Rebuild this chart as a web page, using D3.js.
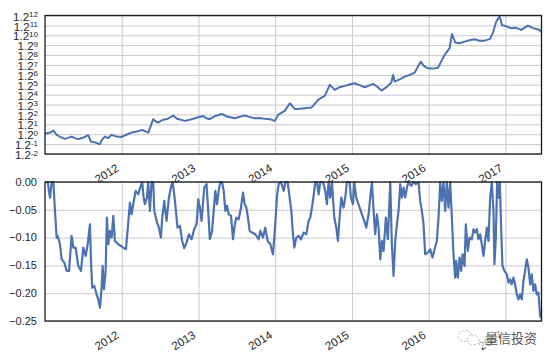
<!DOCTYPE html>
<html>
<head>
<meta charset="utf-8">
<script src="https://cdn.jsdelivr.net/npm/d3@7/dist/d3.min.js"></script>
<style>
  body { margin: 0; background: #fff; }
  text { font-family: "Liberation Sans", Arial, sans-serif; }
  .grid line { stroke: #c9c9cf; stroke-width: 1; }
  .grid path { display: none; }
</style>
</head>
<body>
<script>
// cumulative equity (top, log base 1.2)
var years = [2011.000, 2011.022, 2011.070, 2011.109, 2011.152, 2011.200, 2011.260, 2011.300, 2011.347, 2011.390,
  2011.434, 2011.500, 2011.564, 2011.599, 2011.650, 2011.716, 2011.740, 2011.781, 2011.820, 2011.868,
  2011.930, 2011.998, 2012.060, 2012.128, 2012.200, 2012.259, 2012.300, 2012.345, 2012.411, 2012.440,
  2012.476, 2012.530, 2012.600, 2012.671, 2012.720, 2012.823, 2012.900, 2012.997, 2013.062, 2013.100,
  2013.148, 2013.220, 2013.300, 2013.380, 2013.474, 2013.540, 2013.604, 2013.670, 2013.734, 2013.800,
  2013.865, 2013.930, 2013.995, 2014.038, 2014.080, 2014.125, 2014.190, 2014.255, 2014.320, 2014.385,
  2014.472, 2014.520, 2014.559, 2014.600, 2014.646, 2014.711, 2014.776, 2014.840, 2014.906, 2014.970,
  2015.036, 2015.100, 2015.167, 2015.220, 2015.275, 2015.330, 2015.384, 2015.450, 2015.514, 2015.535,
  2015.557, 2015.620, 2015.687, 2015.750, 2015.818, 2015.896, 2015.940, 2015.991, 2016.060, 2016.122,
  2016.170, 2016.208, 2016.273, 2016.304, 2016.347, 2016.400, 2016.469, 2016.530, 2016.599, 2016.660,
  2016.729, 2016.800, 2016.838, 2016.881, 2016.924, 2016.955, 2017.010, 2017.076, 2017.140, 2017.207,
  2017.293, 2017.350, 2017.402, 2017.440, 2017.470];
var equity = [1.000, 1.018, 1.030, 1.070, 0.988, 0.950, 0.918, 0.935, 0.957, 0.930,
  0.913, 0.940, 0.982, 0.874, 0.860, 0.832, 0.900, 0.957, 0.930, 0.988,
  0.960, 0.952, 0.990, 1.031, 1.050, 1.083, 1.060, 1.031, 1.319, 1.270,
  1.240, 1.300, 1.330, 1.410, 1.330, 1.279, 1.310, 1.368, 1.401, 1.340,
  1.319, 1.400, 1.453, 1.380, 1.343, 1.380, 1.410, 1.370, 1.343, 1.350,
  1.327, 1.320, 1.279, 1.427, 1.480, 1.538, 1.770, 1.594, 1.600, 1.615,
  1.633, 1.760, 1.883, 1.950, 2.025, 2.481, 2.263, 2.380, 2.436, 2.500,
  2.558, 2.470, 2.377, 2.450, 2.526, 2.400, 2.235, 2.380, 2.590, 2.980,
  2.640, 2.750, 2.890, 2.980, 3.115, 3.810, 3.500, 3.370, 3.350, 3.410,
  3.900, 4.310, 4.880, 6.340, 5.410, 5.350, 5.510, 5.650, 5.760, 5.600,
  5.610, 5.800, 6.510, 7.970, 8.770, 7.490, 7.300, 7.050, 7.100, 6.840,
  7.400, 7.100, 6.960, 6.850, 6.590];

// drawdown (bottom)
var ddYears = [2011.000, 2011.035, 2011.065, 2011.087, 2011.109, 2011.130, 2011.152, 2011.165, 2011.195, 2011.217,
  2011.252, 2011.282, 2011.313, 2011.347, 2011.369, 2011.399, 2011.434, 2011.469, 2011.499, 2011.530,
  2011.556, 2011.586, 2011.599, 2011.616, 2011.642, 2011.673, 2011.694, 2011.716, 2011.738, 2011.751,
  2011.768, 2011.790, 2011.807, 2011.825, 2011.846, 2011.868, 2011.890, 2011.911, 2011.955, 2012.020,
  2012.055, 2012.076, 2012.107, 2012.128, 2012.150, 2012.181, 2012.215, 2012.241, 2012.267, 2012.285,
  2012.302, 2012.328, 2012.345, 2012.367, 2012.389, 2012.411, 2012.424, 2012.454, 2012.484, 2012.510,
  2012.528, 2012.554, 2012.584, 2012.615, 2012.641, 2012.662, 2012.684, 2012.706, 2012.727, 2012.758,
  2012.788, 2012.814, 2012.845, 2012.875, 2012.910, 2012.944, 2012.975, 2012.997, 2013.018, 2013.040,
  2013.075, 2013.105, 2013.127, 2013.148, 2013.177, 2013.198, 2013.220, 2013.242, 2013.263, 2013.285,
  2013.307, 2013.329, 2013.350, 2013.372, 2013.394, 2013.424, 2013.450, 2013.467, 2013.493, 2013.524,
  2013.554, 2013.580, 2013.602, 2013.624, 2013.645, 2013.667, 2013.697, 2013.741, 2013.784, 2013.806,
  2013.841, 2013.871, 2013.901, 2013.936, 2013.971, 2013.988, 2014.006, 2014.023, 2014.045, 2014.075,
  2014.110, 2014.132, 2014.162, 2014.188, 2014.210, 2014.231, 2014.249, 2014.275, 2014.305, 2014.336,
  2014.370, 2014.405, 2014.435, 2014.457, 2014.479, 2014.500, 2014.522, 2014.544, 2014.566, 2014.587,
  2014.622, 2014.652, 2014.674, 2014.696, 2014.717, 2014.739, 2014.770, 2014.796, 2014.817, 2014.839,
  2014.861, 2014.891, 2014.913, 2014.934, 2014.969, 2014.987, 2015.013, 2015.030, 2015.056, 2015.086,
  2015.130, 2015.160, 2015.186, 2015.217, 2015.238, 2015.260, 2015.282, 2015.303, 2015.325, 2015.347,
  2015.369, 2015.390, 2015.412, 2015.442, 2015.468, 2015.499, 2015.520, 2015.542, 2015.564, 2015.586,
  2015.607, 2015.629, 2015.651, 2015.672, 2015.694, 2015.716, 2015.737, 2015.772, 2015.803, 2015.833,
  2015.868, 2015.889, 2015.911, 2015.933, 2015.954, 2015.989, 2016.020, 2016.050, 2016.076, 2016.106,
  2016.128, 2016.150, 2016.171, 2016.193, 2016.215, 2016.236, 2016.258, 2016.280, 2016.302, 2016.323,
  2016.345, 2016.358, 2016.380, 2016.402, 2016.423, 2016.441, 2016.467, 2016.484, 2016.510, 2016.532,
  2016.562, 2016.584, 2016.605, 2016.627, 2016.649, 2016.671, 2016.692, 2016.714, 2016.736, 2016.757,
  2016.779, 2016.801, 2016.822, 2016.844, 2016.857, 2016.875, 2016.892, 2016.909, 2016.927, 2016.944,
  2016.961, 2016.987, 2017.018, 2017.040, 2017.061, 2017.083, 2017.105, 2017.126, 2017.148, 2017.170,
  2017.191, 2017.213, 2017.235, 2017.256, 2017.278, 2017.300, 2017.322, 2017.343, 2017.365, 2017.387,
  2017.408, 2017.430, 2017.452, 2017.470];
var drawdown = [0.000, 0.000, -0.028, 0.000, 0.000, -0.052, -0.100, -0.097, -0.112, -0.139,
  -0.145, -0.160, -0.160, -0.097, -0.118, -0.118, -0.151, -0.160, -0.118, -0.133,
  -0.112, -0.076, -0.142, -0.190, -0.187, -0.202, -0.211, -0.226, -0.190, -0.151,
  -0.193, -0.160, -0.064, -0.112, -0.088, -0.100, -0.061, -0.106, -0.112, -0.118,
  -0.121, -0.088, -0.037, -0.058, -0.040, -0.016, -0.022, -0.010, 0.000, -0.028,
  -0.040, -0.028, 0.000, -0.052, 0.000, 0.000, -0.052, -0.070, -0.082, -0.100,
  -0.064, -0.034, -0.070, -0.028, -0.010, 0.000, -0.022, -0.052, -0.082, -0.079,
  -0.106, -0.119, -0.109, -0.094, -0.103, -0.085, -0.076, -0.031, -0.046, -0.070,
  -0.010, -0.004, -0.052, -0.103, -0.088, -0.052, -0.016, -0.040, -0.016, 0.000,
  0.000, -0.016, -0.052, -0.043, -0.058, -0.061, -0.103, -0.082, -0.064, -0.067,
  -0.046, -0.019, -0.040, -0.046, -0.064, -0.088, -0.091, -0.094, -0.103, -0.088,
  -0.100, -0.082, -0.106, -0.112, -0.130, -0.100, -0.064, -0.025, -0.004, 0.000,
  -0.016, 0.000, 0.000, -0.028, -0.052, -0.094, -0.118, -0.100, -0.097, -0.103,
  -0.091, -0.094, -0.070, -0.064, -0.046, -0.025, 0.000, 0.000, -0.022, 0.000,
  0.000, -0.016, -0.040, 0.000, -0.028, 0.000, -0.064, -0.082, -0.106, -0.064,
  -0.028, -0.046, -0.028, 0.000, 0.000, -0.028, -0.040, 0.000, -0.028, -0.040,
  -0.058, -0.070, -0.082, -0.058, -0.028, 0.000, -0.052, -0.094, -0.058, -0.082,
  -0.139, -0.106, -0.124, -0.064, -0.103, 0.000, -0.112, -0.169, -0.106, -0.076,
  -0.052, -0.004, -0.028, -0.010, -0.028, -0.010, 0.000, -0.007, 0.000, -0.004,
  0.000, -0.034, -0.052, -0.076, -0.130, -0.127, -0.121, -0.136, -0.121, -0.106,
  -0.064, 0.000, -0.034, 0.000, -0.052, 0.000, -0.046, 0.000, -0.064, -0.130,
  -0.172, -0.142, -0.172, -0.136, -0.160, -0.130, -0.151, -0.076, -0.124, -0.100,
  -0.103, -0.085, -0.091, -0.085, -0.103, -0.094, -0.112, -0.133, -0.106, -0.082,
  -0.106, -0.028, 0.000, -0.052, -0.148, -0.100, 0.000, -0.028, 0.000, -0.082,
  -0.151, -0.160, -0.166, -0.181, -0.175, -0.184, -0.172, -0.184, -0.202, -0.211,
  -0.202, -0.211, -0.178, -0.160, -0.139, -0.154, -0.184, -0.166, -0.196, -0.184,
  -0.202, -0.199, -0.241, -0.245];

var yearTicks = [2012, 2013, 2014, 2015, 2016, 2017];
var powerTicks = [-2, -1, 0, 1, 2, 3, 4, 5, 6, 7, 8, 9, 10, 11, 12];
var ddTicks = [0, -0.05, -0.10, -0.15, -0.20, -0.25];

var W = 554, H = 359;
var left = 45, right = 541.5;
var top1 = 15.5, bot1 = 154;
var top2 = 182, bot2 = 321;
var blue = "#4c72b0";

var svg = d3.select("body").append("svg")
  .attr("width", W).attr("height", H);

var x = d3.scaleLinear().domain([2011.0, 2017.47]).range([left, right]);
var y1 = d3.scaleLog().base(1.2).domain([Math.pow(1.2, -2), Math.pow(1.2, 12)]).range([bot1, top1]);
var y2 = d3.scaleLinear().domain([-0.25, 0]).range([bot2, top2]);

function panel(yScale, yTop, yBot, yTickVals) {
  var g = svg.append("g");
  // horizontal grid
  g.append("g").attr("class", "grid")
    .attr("transform", "translate(" + left + ",0)")
    .call(d3.axisLeft(yScale).tickValues(yTickVals).tickSize(-(right - left)).tickFormat(""));
  // vertical grid
  g.append("g").attr("class", "grid")
    .attr("transform", "translate(0," + yBot + ")")
    .call(d3.axisBottom(x).tickValues(yearTicks).tickSize(-(yBot - yTop)).tickFormat(""));
  // year labels, rotated
  g.selectAll("text.yr").data(yearTicks).enter().append("text")
    .attr("class", "yr")
    .attr("transform", function(d) { return "translate(" + (x(d) - 2) + "," + (yBot + 16) + ") rotate(-32)"; })
    .attr("text-anchor", "end")
    .style("font-size", "11.5px")
    .attr("fill", "#262626")
    .text(function(d) { return d; });
  return g;
}

var g1 = panel(y1, top1, bot1, powerTicks.map(function(p) { return Math.pow(1.2, p); }));
var g2 = panel(y2, top2, bot2, ddTicks);

// clip paths
svg.append("clipPath").attr("id", "c1").append("rect")
  .attr("x", left).attr("y", top1).attr("width", right - left).attr("height", bot1 - top1);
svg.append("clipPath").attr("id", "c2").append("rect")
  .attr("x", left).attr("y", top2 - 1).attr("width", right - left).attr("height", bot2 - top2 + 1);

var line1 = d3.line()
  .x(function(d, i) { return x(years[i]); })
  .y(function(d) { return y1(d); });
g1.append("path").datum(equity)
  .attr("clip-path", "url(#c1)")
  .attr("fill", "none").attr("stroke", blue).attr("stroke-width", 2)
  .attr("stroke-linejoin", "round")
  .attr("d", line1);

var line2 = d3.line()
  .x(function(d, i) { return x(ddYears[i]); })
  .y(function(d) { return y2(d); });
g2.append("path").datum(drawdown)
  .attr("clip-path", "url(#c2)")
  .attr("fill", "none").attr("stroke", blue).attr("stroke-width", 2.2)
  .attr("stroke-linejoin", "round")
  .attr("d", line2);

// y labels top: 1.2^p
var lab1 = g1.selectAll("text.pw").data(powerTicks).enter().append("text")
  .attr("class", "pw")
  .attr("x", left - 7)
  .attr("y", function(d) { return y1(Math.pow(1.2, d)); })
  .attr("dy", "0.45em")
  .attr("text-anchor", "end")
  .attr("fill", "#262626")
  .style("font-size", "11.5px");
lab1.append("tspan").text("1.2");
lab1.append("tspan").attr("dy", "-0.45em").style("font-size", "8px")
  .text(function(d) { return d < 0 ? "-" + (-d) : d; });

// y labels bottom
g2.selectAll("text.dd").data(ddTicks).enter().append("text")
  .attr("class", "dd")
  .attr("x", left - 8)
  .attr("y", function(d) { return y2(d); })
  .attr("dy", "0.35em")
  .attr("text-anchor", "end")
  .attr("fill", "#262626")
  .style("font-size", "11px")
  .text(function(d) { return d3.format(".2f")(d).replace("-", "\u2212"); });

// frames
[[top1, bot1], [top2, bot2]].forEach(function(p) {
  svg.append("rect")
    .attr("x", left).attr("y", p[0]).attr("width", right - left).attr("height", p[1] - p[0])
    .attr("fill", "none").attr("stroke", "#1a1a1a").attr("stroke-width", 1.3);
});

// watermark
var wm = svg.append("g").attr("transform", "translate(456,328)");
wm.append("rect").attr("x", 8).attr("y", 0).attr("width", 74).attr("height", 20)
  .attr("fill", "#fff").attr("opacity", 0.55);
wm.append("ellipse").attr("cx", 9).attr("cy", 8).attr("rx", 7).attr("ry", 5.5)
  .attr("fill", "none").attr("stroke", "#aaa").attr("stroke-dasharray", "1.5,1.5");
wm.append("ellipse").attr("cx", 17).attr("cy", 12).attr("rx", 6).attr("ry", 5)
  .attr("fill", "#fff").attr("fill-opacity", 0.7).attr("stroke", "#aaa").attr("stroke-dasharray", "1.5,1.5");
wm.append("text").attr("x", 29).attr("y", 15)
  .style("font-family", "'Noto Sans CJK SC', sans-serif")
  .style("font-size", "13px").attr("fill", "#555")
  .text("量信投资");
</script>
</body>
</html>
